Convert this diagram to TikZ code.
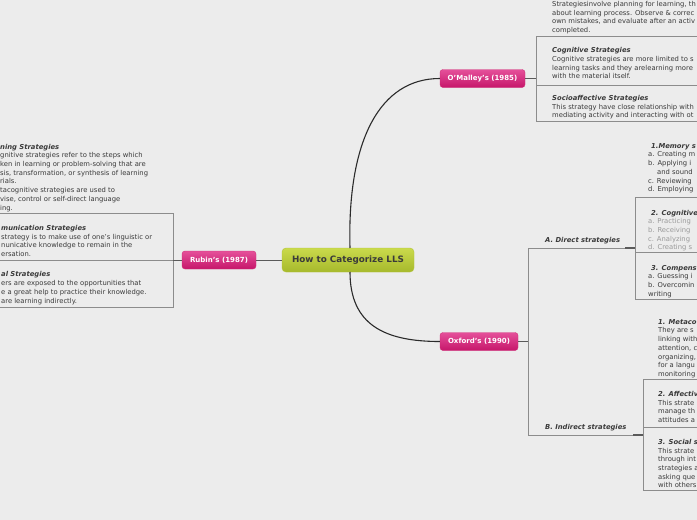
\documentclass[tikz,border=0pt]{standalone}
\usepackage{fontspec}
\setmainfont{DejaVu Sans}
\definecolor{bg}{HTML}{ECECEC}
\definecolor{txtc}{HTML}{3A3A3A}
\definecolor{ltxt}{HTML}{9A9A9A}
\definecolor{boxc}{HTML}{8C8C8C}
\definecolor{curvec}{HTML}{2B2B2B}
\definecolor{linec}{HTML}{5A5A5A}
\definecolor{pinkt}{HTML}{E5509A}
\definecolor{pinkb}{HTML}{C6166A}
\definecolor{pinkd}{HTML}{D23079}
\definecolor{greent}{HTML}{CADA4C}
\definecolor{greenb}{HTML}{A6B92C}
\definecolor{greend}{HTML}{B2C43A}
\begin{document}
\begin{tikzpicture}[x=1pt,y=-1pt,
  txt/.style={font=\fontsize{6.8}{8.7}\selectfont, align=left, inner sep=0pt, anchor=north west, text=txtc},
  grp/.style={draw=boxc, line width=0.7pt, inner sep=0pt, fill=none},
  topic/.style={rounded corners=3pt, top color=pinkt, bottom color=pinkb, draw=pinkd, text=white,
    font=\fontsize{7}{8}\selectfont\bfseries, inner sep=0pt, minimum height=18pt},
  central/.style={rounded corners=4pt, top color=greent, bottom color=greenb, draw=greend, text=txtc,
    font=\fontsize{8.8}{10}\selectfont\bfseries, inner sep=0pt, minimum height=24pt, minimum width=132pt},
  curve/.style={draw=curvec, line width=1.1pt},
  conn/.style={draw=linec, line width=0.8pt},
  brk/.style={draw=boxc, line width=0.7pt},
  dk/.style={draw=linec, line width=1.4pt},
  lbl/.style={font=\fontsize{6.8}{8}\selectfont\bfseries\itshape, text=txtc, inner sep=0pt, anchor=west}
]
\useasboundingbox[fill=bg] (0,0) rectangle (697,520);
\clip (0,0) rectangle (697,520);

% main nodes
\node[central] (c) at (348,260) {How to Categorize LLS};
\node[topic, minimum width=74pt] (r) at (219,260) {Rubin's (1987)};
\node[topic, minimum width=85pt] (o) at (482.5,78.5) {O'Malley's (1985)};
\node[topic, minimum width=78pt] (x) at (479,341.5) {Oxford's (1990)};

% group boxes
\node[grp, minimum width=176pt, minimum height=94pt] (rbox) at (85,260) {};
\node[grp, minimum width=166pt, minimum height=85pt] (obox) at (619,78.5) {};
\node[grp, minimum width=67pt, minimum height=102pt] (dbox) at (668.5,248) {};
\node[grp, minimum width=59pt, minimum height=111pt] (ibox) at (672.5,434.5) {};

% dividers
\draw[brk] (rbox.west) -- (rbox.east);
\draw[brk] (536,85) -- (700,85);
\draw[brk] (635,252) -- (700,252);
\draw[brk] (643,427) -- (700,427);

% connectors
\draw[curve] (350,248) .. controls (347,140) and (380,78.5) .. (o.west);
\draw[curve] (350,272) .. controls (350,325) and (385,341.5) .. (x.west);
\draw[conn] (c.west) -- (r.east);
\draw[conn] (r.west) -- (rbox.east);
\draw[conn] (o.east) -- (obox.west |- o.east);
\coordinate (xb) at (528,341.5);
\coordinate (xt) at (528,248);
\coordinate (xd) at (528,435);
\draw[conn] (x.east) -- (xb);
\draw[brk] (xt) -- (xd);
\draw[brk] (xt) -- (dbox.west |- xt);
\draw[brk] (xd) -- (ibox.west |- xd);
\draw[dk] (625,248) -- (dbox.west |- xt);
\draw[dk] (633,435) -- (ibox.west |- xd);

\node[lbl] (la) at (545,241) {A. Direct strategies};
\node[lbl] (lb) at (545,428) {B. Indirect strategies};

% Rubin texts
\node[txt] (t1) at (0,143.8) {\textbf{\textit{ning Strategies}}\\
gnitive strategies refer to the steps which\\
ken in learning or problem-solving that are\\
sis, transformation, or synthesis of learning\\
rials.\\
tacognitive strategies are used to\\
vise, control or self-direct language\\
ing.};
\node[txt] (t2) at (1,225.1) {\textbf{\textit{munication Strategies}}\\
strategy is to make use of one's linguistic or\\
nunicative knowledge to remain in the\\
ersation.};
\node[txt] (t3) at (1,271.6) {\textbf{\textit{al Strategies}}\\
ers are exposed to the opportunities that\\
e a great help to practice their knowledge.\\
are learning indirectly.};

% O'Malley texts
\node[txt] (t4) at (552,1.1) {Strategiesinvolve planning for learning, th\\
about learning process. Observe \& correc\\
own mistakes, and evaluate after an activ\\
completed.};
\node[txt] (t5) at (552,47.4) {\textbf{\textit{Cognitive Strategies}}\\
Cognitive strategies are more limited to s\\
learning tasks and they arelearning more\\
with the material itself.};
\node[txt] (t6) at (552,95.1) {\textbf{\textit{Socioaffective Strategies}}\\
This strategy have close relationship with\\
mediating activity and interacting with ot};

% Oxford direct
\node[txt] (t7) at (648,143.1) {\hspace*{3pt}\textbf{\textit{1.Memory s}}\\
a. Creating m\\
b. Applying i\\
\hspace*{9pt}and sound\\
c. Reviewing\\
d. Employing};
\node[txt] (t8) at (648,209.8) {\hspace*{3pt}\textbf{\textit{2. Cognitive}}\\
\textcolor{ltxt}{a. Practicing}\\
\textcolor{ltxt}{b. Receiving}\\
\textcolor{ltxt}{c. Analyzing}\\
\textcolor{ltxt}{d. Creating s}};
\node[txt] (t9) at (648,264.8) {\hspace*{3pt}\textbf{\textit{3. Compens}}\\
a. Guessing i\\
b. Overcomin\\
writing};

% Oxford indirect
\node[txt] (t10) at (658,319.1) {\textbf{\textit{1. Metaco}}\\
They are s\\
linking with\\
attention, c\\
organizing,\\
for a langu\\
monitoring};
\node[txt] (t11) at (658,391.1) {\textbf{\textit{2. Affectiv}}\\
This strate\\
manage th\\
attitudes a};
\node[txt] (t12) at (658,439.1) {\textbf{\textit{3. Social s}}\\
This strate\\
through int\\
strategies a\\
asking que\\
with others};
\end{tikzpicture}
\end{document}
